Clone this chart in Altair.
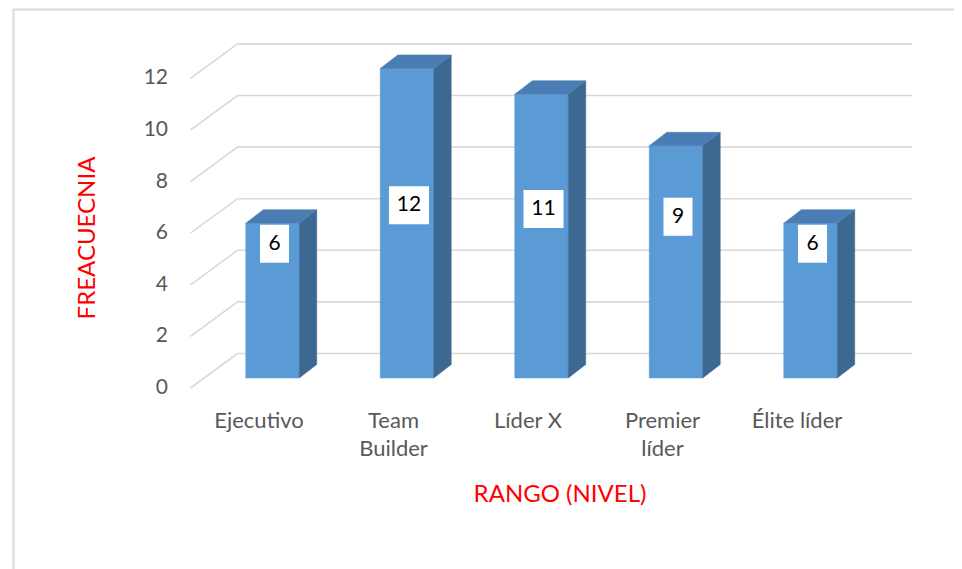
import altair as alt
import pandas as pd

# ---- data ----
categories = ["Ejecutivo", "Team Builder", "Líder X", "Premier líder", "Élite líder"]
axis_labels = ["Ejecutivo", "Team\nBuilder", "Líder X", "Premier\nlíder", "Élite líder"]
values = [6, 12, 11, 9, 6]
y_ticks = [0, 2, 4, 6, 8, 10, 12]
y_title = "FREACUECNIA"
x_title = "RANGO (NIVEL)"

# ---- geometry (pixels -> data units) ----
W, H = 946, 561
PX_X = 134.5          # px per category step
PX_Y = 25.8           # px per value unit
X0 = 264.5            # view x of first bar centre
Y0 = 370.0            # view y of value 0 (bar front bottom)
x_dom = [-X0 / PX_X, (W - X0) / PX_X]
y_dom = [-(H - Y0) / PX_Y, Y0 / PX_Y]

HW = 26.75 / PX_X     # half front width
DX = 17.5 / PX_X      # depth x
DY = 13.5 / PX_Y      # depth y

FONT = "Lato"
FRONT = "#5B9BD5"
TOP = "#4A7DB3"
SIDE = "#3D6891"
GRID = "#D9D9D9"

sx = alt.Scale(domain=x_dom, nice=False, zero=False)
sy = alt.Scale(domain=y_dom, nice=False, zero=False)

# front faces
front = pd.DataFrame({
    "cat": categories,
    "x1": [i - HW for i in range(len(values))],
    "x2": [i + HW for i in range(len(values))],
    "y1": [0.0] * len(values),
    "y2": [float(v) for v in values],
})

# side faces
side_rows = []
for i, (c, v) in enumerate(zip(categories, values)):
    side_rows.append({"cat": c, "x": i + HW, "lo": 0.0, "hi": float(v)})
    side_rows.append({"cat": c, "x": i + HW + DX, "lo": DY, "hi": v + DY})
side = pd.DataFrame(side_rows)

# top faces
top_rows = []
for i, (c, v) in enumerate(zip(categories, values)):
    top_rows.append({"cat": c, "y": float(v), "xl": i - HW, "xr": i + HW})
    top_rows.append({"cat": c, "y": v + DY, "xl": i - HW + DX, "xr": i + HW + DX})
top = pd.DataFrame(top_rows)

# gridlines (front-left diagonal + back wall)
gx = [-82 / PX_X, -35 / PX_X, 639.5 / PX_X]
gdy = [-10 / PX_Y, 24.5 / PX_Y, 24.5 / PX_Y]
grid_rows = []
for t in y_ticks:
    for k in range(3):
        grid_rows.append({"t": t, "k": k, "x": gx[k], "y": t + gdy[k]})
grid = pd.DataFrame(grid_rows)

ticks = pd.DataFrame({
    "t": y_ticks,
    "x": [-104.5 / PX_X] * len(y_ticks),
    "y": [t + gdy[0] for t in y_ticks],
    "lab": [str(t) for t in y_ticks],
})

# data labels
lab_rows = []
for i, v in enumerate(values):
    lp = min(v - 0.8, 4.9 + 0.15 * v)
    hw = (18 + 11 * len(str(v))) / 2 / PX_X
    hh = 19 / PX_Y
    cx = i + 2 / PX_X
    lab_rows.append({"cx": cx, "x1": cx - hw, "x2": cx + hw,
                     "y": lp, "y1": lp - hh, "y2": lp + hh, "lab": str(v)})
labs = pd.DataFrame(lab_rows)

cats = pd.DataFrame({
    "x": [i - 13.5 / PX_X for i in range(len(values))],
    "y": [-32.5 / PX_Y] * len(values),
    "lab": axis_labels,
})

# ---- layers ----
border = alt.Chart(pd.DataFrame({"a": [0]})).mark_rect(
    fill=None, stroke=GRID, strokeWidth=2
).encode(x=alt.value(5.5), x2=alt.value(1200), y=alt.value(1.5), y2=alt.value(900))

grid_l = alt.Chart(grid).mark_line(color=GRID, strokeWidth=1.6).encode(
    x=alt.X("x:Q", scale=sx, axis=None),
    y=alt.Y("y:Q", scale=sy, axis=None),
    detail="t:N",
    order="k:Q",
)

tick_l = alt.Chart(ticks).mark_text(
    align="right", baseline="middle", font=FONT, fontSize=21, color="#595959"
).encode(x=alt.X("x:Q", scale=sx), y=alt.Y("y:Q", scale=sy), text="lab:N")

front_l = alt.Chart(front).mark_rect(color=FRONT, stroke=FRONT, strokeWidth=0.5).encode(
    x=alt.X("x1:Q", scale=sx), x2="x2:Q",
    y=alt.Y("y1:Q", scale=sy), y2="y2:Q",
)

side_l = alt.Chart(side).mark_area(color=SIDE, stroke=SIDE, strokeWidth=0.5).encode(
    x=alt.X("x:Q", scale=sx),
    y=alt.Y("lo:Q", scale=sy), y2="hi:Q",
    detail="cat:N",
)

top_l = alt.Chart(top).mark_area(orient="horizontal", color=TOP, stroke=TOP, strokeWidth=0.5).encode(
    y=alt.Y("y:Q", scale=sy),
    x=alt.X("xl:Q", scale=sx), x2="xr:Q",
    detail="cat:N",
)

box_l = alt.Chart(labs).mark_rect(color="white").encode(
    x=alt.X("x1:Q", scale=sx), x2="x2:Q",
    y=alt.Y("y1:Q", scale=sy), y2="y2:Q",
)

labt_l = alt.Chart(labs).mark_text(
    align="center", baseline="middle", font=FONT, fontSize=21, color="black"
).encode(x=alt.X("cx:Q", scale=sx), y=alt.Y("y:Q", scale=sy), text="lab:N")

cat_l = alt.Chart(cats).mark_text(
    align="center", baseline="top", font=FONT, fontSize=22, color="#595959",
    lineBreak="\n", lineHeight=28,
).encode(x=alt.X("x:Q", scale=sx), y=alt.Y("y:Q", scale=sy), text="lab:N")

ytitle_l = alt.Chart(pd.DataFrame({"t": [y_title]})).mark_text(
    angle=270, align="center", baseline="middle", font=FONT, fontSize=24, color="#FF0000"
).encode(x=alt.value(79.5), y=alt.value(230), text="t:N")

xtitle_l = alt.Chart(pd.DataFrame({"t": [x_title]})).mark_text(
    align="center", baseline="middle", font=FONT, fontSize=24, color="#FF0000"
).encode(x=alt.value(552), y=alt.value(487), text="t:N")

chart = alt.layer(
    border, grid_l, tick_l, front_l, side_l, top_l, box_l, labt_l, cat_l, ytitle_l, xtitle_l
).properties(
    width=W, height=H, padding=0, autosize="none", background="white"
).configure_view(stroke=None)

chart.save("out.html", embed_options={"renderer": "svg", "actions": False})
